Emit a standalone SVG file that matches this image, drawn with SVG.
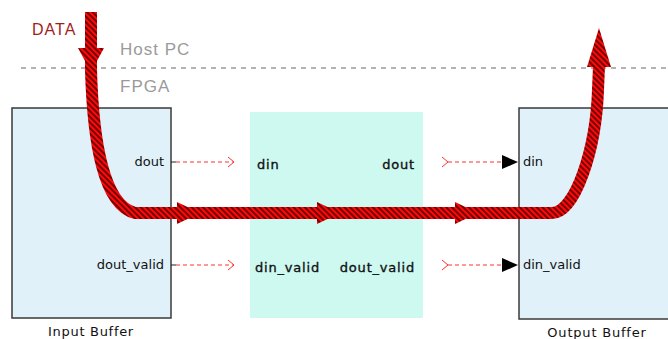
<svg xmlns="http://www.w3.org/2000/svg" width="668" height="339" viewBox="0 0 668 339">
  <defs>
    <pattern id="hatch" patternUnits="userSpaceOnUse" width="4" height="4" patternTransform="rotate(-45)">
      <rect x="0" y="0" width="4" height="4" fill="#ff0a0a"/>
      <rect x="0" y="0" width="1.9" height="4" fill="#6e0000"/>
    </pattern>
    <marker id="blackArrow" viewBox="0 0 16 14" refX="16" refY="7" markerWidth="16" markerHeight="14" markerUnits="userSpaceOnUse" orient="auto">
      <path d="M0,0 L16,7 L0,14 Z" fill="#000"/>
    </marker>
  </defs>
  <style>
    .box { fill: #e1f1fa; stroke: #3a3a3a; stroke-width: 1.5; }
    .mid { fill: #cdf9f1; }
    .port { font-family: "DejaVu Sans", sans-serif; font-size: 13px; fill: #111; }
    .mport { font-family: "DejaVu Sans", sans-serif; font-size: 13px; fill: #111; stroke: #111; stroke-width: 0.35; letter-spacing: 0.8px; }
    .cap { font-family: "DejaVu Sans", sans-serif; font-size: 13px; fill: #111; }
    .zone { font-family: "Liberation Sans", Arial, sans-serif; font-size: 17px; fill: #9a9a9a; letter-spacing: 1px; }
    .sig { fill: none; stroke: #ff3030; stroke-width: 1; stroke-dasharray: 4 3; }
    .chev { fill: none; stroke: #ff3030; stroke-width: 1; }
    .flow { fill: none; stroke: url(#hatch); stroke-width: 12; stroke-linejoin: round; }
    .head { fill: url(#hatch); }
  </style>

  <!-- zone separator -->
  <line x1="21" y1="68" x2="668" y2="68" stroke="#9a9a9a" stroke-width="1.5" stroke-dasharray="5 5"/>
  <text class="zone" x="120" y="55">Host PC</text>
  <text class="zone" x="120" y="92">FPGA</text>
  <text x="32" y="35" font-family="Liberation Sans, Arial, sans-serif" font-size="16" fill="#a01e1e" letter-spacing="1">DATA</text>

  <g id="input-buffer">
    <rect class="box" x="12" y="108" width="159" height="210"/>
    <text class="port" x="164" y="166" text-anchor="end">dout</text>
    <text class="port" x="164" y="269" text-anchor="end">dout_valid</text>
    <text class="cap" x="91" y="336" text-anchor="middle" letter-spacing="0.7">Input Buffer</text>
  </g>

  <g id="middle-block">
    <rect class="mid" x="250" y="112" width="173" height="206"/>
    <text class="mport" x="257" y="169">din</text>
    <text class="mport" x="415" y="169" text-anchor="end">dout</text>
    <text class="mport" x="255" y="272">din_valid</text>
    <text class="mport" x="415" y="272" text-anchor="end">dout_valid</text>
  </g>

  <g id="output-buffer">
    <rect class="box" x="519" y="108" width="160" height="211"/>
    <text class="port" x="523" y="166">din</text>
    <text class="port" x="523" y="269">din_valid</text>
    <text class="cap" x="597" y="337" text-anchor="middle" letter-spacing="0.8">Output Buffer</text>
  </g>

  <g id="connectors">
    <!-- input buffer -> middle -->
    <line x1="171" y1="162" x2="176" y2="162" stroke="#222" stroke-width="1"/>
    <line class="sig" x1="176" y1="162" x2="233" y2="162"/>
    <polyline class="chev" points="228,157 234,162 228,167"/>
    <line x1="171" y1="265" x2="176" y2="265" stroke="#222" stroke-width="1"/>
    <line class="sig" x1="176" y1="265" x2="233" y2="265"/>
    <polyline class="chev" points="228,260 234,265 228,270"/>

    <!-- middle -> output buffer -->
    <polyline class="chev" points="442,157 448,162 442,167"/>
    <line class="sig" x1="448" y1="162" x2="518" y2="162" marker-end="url(#blackArrow)"/>
    <polyline class="chev" points="442,260 448,265 442,270"/>
    <line class="sig" x1="448" y1="265" x2="518" y2="265" marker-end="url(#blackArrow)"/>

    <!-- data flow -->
    <path class="flow" d="M91,12 L91,70 C93,140 103,205 135,213 L552,213 C575,213 596,150 598,90 L599,66"/>
    <polygon class="head" points="78,48 104,48 91,72"/>
    <polygon class="head" points="177,202 200,213 177,224"/>
    <polygon class="head" points="317,202 340,213 317,224"/>
    <polygon class="head" points="455,202 478,213 455,224"/>
    <polygon class="head" points="599,28 611,67 587,67"/>
  </g>
</svg>
